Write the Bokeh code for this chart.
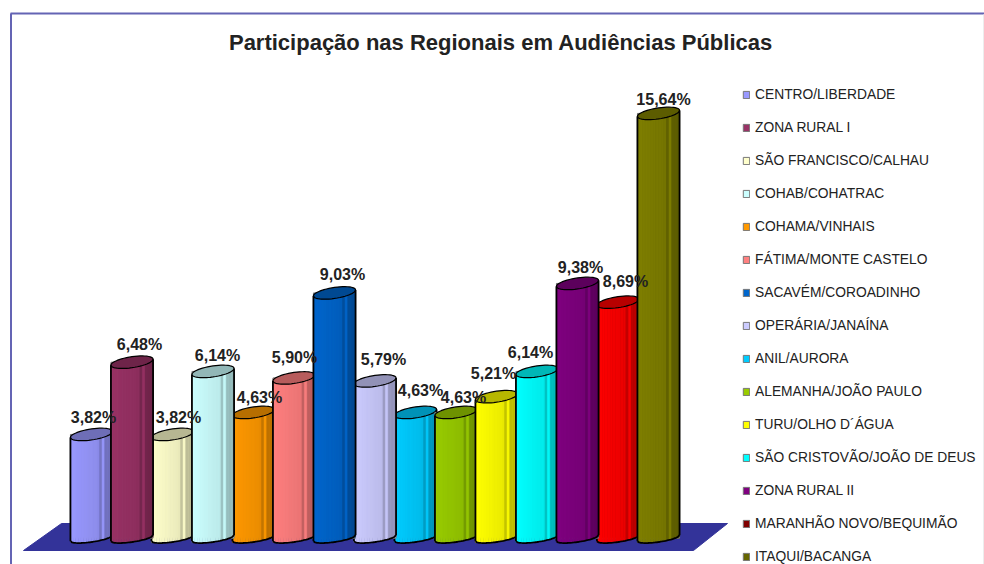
from bokeh.plotting import figure
from bokeh.models import ColumnDataSource, Range1d, Legend, LegendItem, Label
from bokeh.core.properties import value
from bokeh.embed import file_html
from bokeh.resources import INLINE
import numpy as np

title = "Participação nas Regionais em Audiências Públicas"
regions = ["CENTRO/LIBERDADE", "ZONA RURAL I", "SÃO FRANCISCO/CALHAU", "COHAB/COHATRAC",
           "COHAMA/VINHAIS", "FÁTIMA/MONTE CASTELO", "SACAVÉM/COROADINHO", "OPERÁRIA/JANAÍNA",
           "ANIL/AURORA", "ALEMANHA/JOÃO PAULO", "TURU/OLHO D´ÁGUA", "SÃO CRISTOVÃO/JOÃO DE DEUS",
           "ZONA RURAL II", "MARANHÃO NOVO/BEQUIMÃO", "ITAQUI/BACANGA"]
shares = [3.82, 6.48, 3.82, 6.14, 4.63, 5.90, 9.03, 5.79, 4.63, 4.63, 5.21, 6.14, 9.38, 8.69, 15.64]
bar_colors = ["#9999FF", "#993366", "#FFFFCC", "#CCFFFF", "#FF9900", "#FF8080", "#0066CC", "#CCCCFF",
              "#00CCFF", "#99CC00", "#FFFF00", "#00FFFF", "#800080", "#FF0000", "#808000"]
swatch_colors = bar_colors[:13] + ["#800000", "#666600"]
label_dx = [2, 7.5, 6, 4.5, 6, 0.5, 8, 8.5, 5, 7.5, -3, -6.5, 3, 7.5, 5]
label_dy = [17, 18, 17, 16, 15, 20.5, 18, 21, 22, 15, 23, 19, 16, 21, 14]

W, H = 984, 564
# page px -> data: bar i sits at page x 91 + 40.5 i, value v at page y 537.7 - 27.16 v
PX, PY = 40.5, 27.16
def dx(px): return (px - 91) / PX
def dy(py): return (537.7 - py) / PY

p = figure(width=W, height=H, output_backend="svg", toolbar_location=None, min_border=0,
           x_range=Range1d(dx(0), dx(W)), y_range=Range1d(dy(H), dy(0)),
           background_fill_color="white", border_fill_color="white")
p.axis.visible = False
p.grid.visible = False
p.outline_line_color = None

# frame
p.line([dx(10.5), dx(10.5)], [dy(H), dy(13)], line_color="#6464B4", line_width=2)
p.line([dx(10), dx(W)], [dy(13), dy(13)], line_color="#6464B4", line_width=2)
p.line([dx(983), dx(983)], [dy(H), dy(14)], line_color="#EDEDED", line_width=1)

# floor
p.patch([dx(23), dx(61), dx(727), dx(693)], [dy(550), dy(523), dy(523), dy(550)],
        fill_color="#333399", line_color="#333399")

def shade(c, f):
    r, g, b = int(c[1:3], 16), int(c[3:5], 16), int(c[5:7], 16)
    return "#%02x%02x%02x" % (int(r * f), int(g * f), int(b * f))

HW = 0.52          # half width of a cylinder
EH = 5.5 / PY      # half height of the top ellipse
EB = 3.8 / PY      # depth of the bottom arc
TILT = 3 / PY      # right side sits higher
n = 16
edges = np.linspace(-1, 1, n + 1)
order = sorted(range(len(shares)), key=lambda k: shares[k])
keys = {}
for i in order:
    v, c = shares[i], bar_colors[i]
    keys[i] = p.vbar(x=[i], top=[v], bottom=[0], width=2 * HW, fill_color=swatch_colors[i], line_color="#777777")
    lefts = edges[:-1]; rights = edges[1:]; mids = (lefts + rights) / 2
    facs = np.where(mids < 0.35, 1.0 - 0.06 * (mids + 1), 0.80 - 0.08 * mids)
    cols = [shade(c, f) for f in facs]
    cols[12] = shade(c, 0.97)
    p.quad(left=i + lefts * HW, right=i + rights * HW,
           bottom=-EB * np.sqrt(np.clip(1 - mids ** 2, 0, 1)) + TILT * mids,
           top=v + TILT * mids, fill_color=cols, line_color=cols, line_width=0.5)
    t = np.linspace(0, 2 * np.pi, 49)
    p.patch(i + HW * np.cos(t), v + EH * np.sin(t) + TILT * np.cos(t),
            fill_color=shade(c, 0.72), line_color="black", line_width=1.2)
    u = np.linspace(-1, 1, 25)
    p.line(i + HW * u, -EB * np.sqrt(1 - u ** 2) + TILT * u, line_color="black", line_width=1.8)
    p.segment([i - HW, i + HW], [-TILT, TILT], [i - HW, i + HW], [v - TILT, v + TILT],
              line_color="black", line_width=1.8)

# data labels
src = ColumnDataSource(dict(x=list(range(len(shares))), y=shares,
                            t=[f"{s:.2f}%".replace(".", ",") for s in shares],
                            xo=label_dx, yo=[-d for d in label_dy]))
p.text("x", "y", text="t", source=src, x_offset="xo", y_offset="yo", text_align="center",
       text_baseline="middle", text_font=value("Liberation Sans"), text_font_style="bold",
       text_font_size="16px", text_color="#222222")

p.add_layout(Label(x=(228 + 773) / 2, y=H - 42, x_units="screen", y_units="screen", text=title,
                   text_align="center", text_baseline="middle", text_font="Liberation Sans",
                   text_font_style="bold", text_font_size="22px", text_color="#222222"))

legend = Legend(items=[LegendItem(label=r, renderers=[keys[i]]) for i, r in enumerate(regions)],
                location=(742, 0), orientation="vertical", background_fill_alpha=0,
                border_line_color=None, padding=0, margin=0, spacing=18, glyph_width=8, glyph_height=9,
                label_standoff=5, label_height=14, label_text_font="Liberation Sans",
                label_text_font_size="13.8px", label_text_color="#222222", label_text_baseline="middle")
p.add_layout(legend, "center")

open("out.html", "w").write(file_html(p, INLINE))
